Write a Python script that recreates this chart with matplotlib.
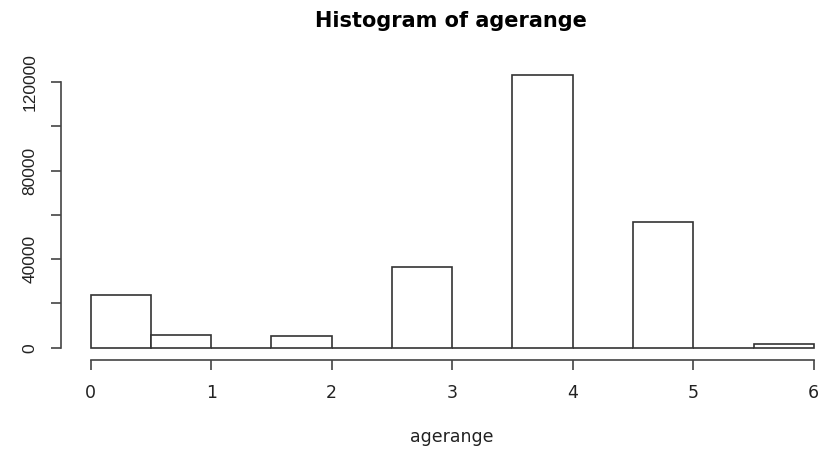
import matplotlib.pyplot as plt

plt.rcParams['font.family'] = ['Liberation Sans', 'DejaVu Sans']

bin_left = [0.0, 0.5, 1.0, 1.5, 2.0, 2.5, 3.0, 3.5, 4.0, 4.5, 5.0, 5.5]
counts = [23800, 5600, 0, 5500, 0, 36600, 0, 123200, 0, 57000, 0, 1500]
bin_width = 0.5
x_ticks = [0, 1, 2, 3, 4, 5, 6]
y_ticks = [0, 20000, 40000, 60000, 80000, 100000, 120000]
y_labels = ["0", "", "40000", "", "80000", "", "120000"]

W, H = 818, 449
fig = plt.figure(figsize=(W / 100, H / 100), dpi=100)
ax = fig.add_axes([61 / W, 1 - 360 / H, (818 - 61) / W, (360 - 64) / H])

ax.bar(bin_left, counts, width=bin_width, align="edge",
       facecolor="white", edgecolor="#333333", linewidth=1.2)

ax.set_xlim(-0.246, 6.035)
ax.set_ylim(-5560, 128250)

for s in ["top", "right"]:
    ax.spines[s].set_visible(False)
ax.spines["left"].set_bounds(0, 120000)
ax.spines["bottom"].set_bounds(0, 6)
for s in ["left", "bottom"]:
    ax.spines[s].set_color("#444444")
    ax.spines[s].set_linewidth(1.2)

ax.set_xticks(x_ticks)
ax.set_xticklabels([str(t) for t in x_ticks], family="DejaVu Sans")
ax.set_yticks(y_ticks)
ax.set_yticklabels(y_labels, rotation=90, va="center")
ax.tick_params(axis="both", length=7, width=1.2, color="#444444",
               labelsize=12.5, labelcolor="#222222")
ax.tick_params(axis="x", pad=10)
ax.tick_params(axis="y", pad=10)

fig.text(451 / W, 1 - 21 / H, "Histogram of agerange", ha="center", va="center",
         fontsize=15, fontweight="bold", family="DejaVu Sans")
fig.text(452 / W, 1 - 437 / H, "agerange", ha="center", va="center",
         fontsize=12.5, color="#222222", family="DejaVu Sans")

fig.savefig("out.png", dpi=100)
